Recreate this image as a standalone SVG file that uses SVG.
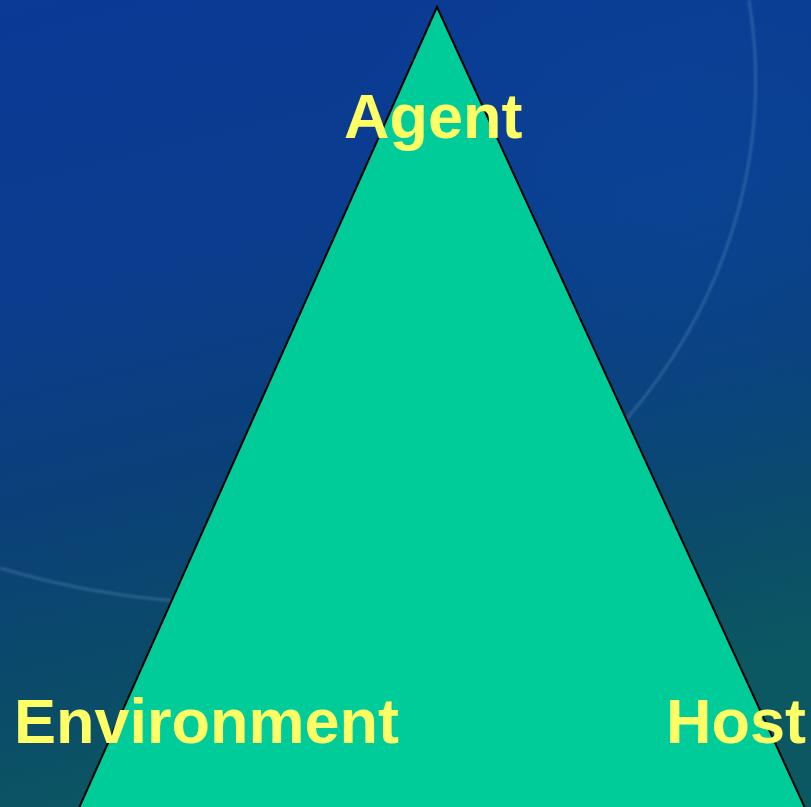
<svg xmlns="http://www.w3.org/2000/svg" width="811" height="807" viewBox="0 0 811 807">
  <defs>
    <linearGradient id="bg" x1="0" y1="0" x2="0.25" y2="1">
      <stop offset="0" stop-color="#0a3996"/>
      <stop offset="0.35" stop-color="#0a3d8e"/>
      <stop offset="0.6" stop-color="#0a4079"/>
      <stop offset="0.8" stop-color="#0b4a6a"/>
      <stop offset="1" stop-color="#0b5862"/>
    </linearGradient>
    <radialGradient id="glow" cx="0.85" cy="0.25" r="0.45">
      <stop offset="0" stop-color="#0c48a2" stop-opacity="0.45"/>
      <stop offset="1" stop-color="#0c48a2" stop-opacity="0"/>
    </radialGradient>
    <filter id="soft" x="-10%" y="-10%" width="120%" height="120%">
      <feGaussianBlur stdDeviation="1"/>
    </filter>
    <style>
      .label { font-family: "Liberation Sans", Arial, sans-serif; font-weight: bold; font-size: 63px; fill: #FFFF66; }
      .tri { fill: #00CC99; stroke: #000000; stroke-width: 2; stroke-linejoin: miter; }
      .arc { fill: none; stroke: #5f8fc0; stroke-opacity: 0.35; stroke-width: 3; }
    </style>
  </defs>
  <g id="background">
    <rect x="0" y="0" width="811" height="807" fill="url(#bg)"/>
    <rect x="0" y="0" width="811" height="807" fill="url(#glow)"/>
    <path class="arc" filter="url(#soft)" d="M 749,0 C 772,140 735,290 630,415 C 500,560 300,612 165,600 C 100,594 40,580 0,568"/>
  </g>
  <g id="triangle">
    <polygon class="tri" points="437,7 79,808 805,808"/>
  </g>
  <g id="node-agent">
    <text class="label" x="344" y="138">Agent</text>
  </g>
  <g id="node-environment">
    <text class="label" x="14" y="743">Environment</text>
  </g>
  <g id="node-host">
    <text class="label" x="666" y="743">Host</text>
  </g>
  <g id="connectors"></g>
</svg>
